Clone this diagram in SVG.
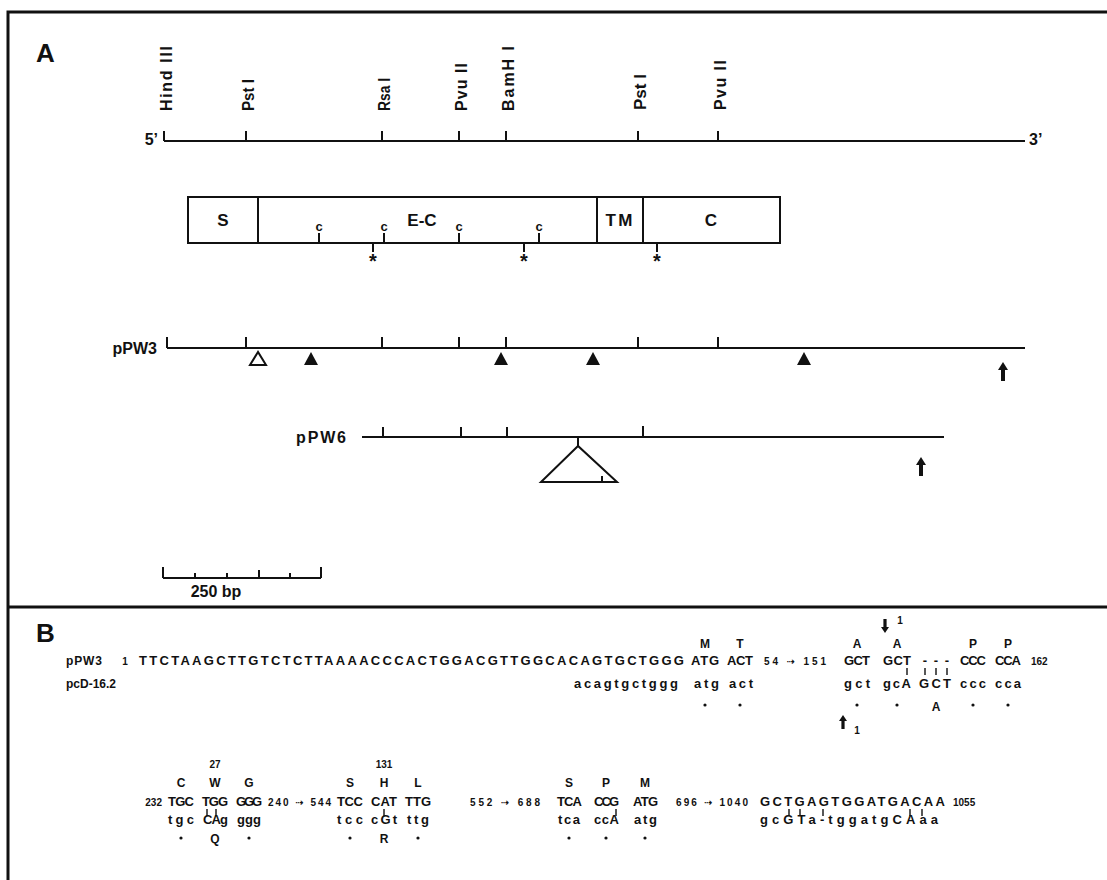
<svg xmlns="http://www.w3.org/2000/svg" width="1107" height="880" viewBox="0 0 1107 880">
<defs>
<style>
.ln{stroke:#111;stroke-width:2;fill:none}
.th{stroke:#111;stroke-width:1.4;fill:none}
.fr{stroke:#111;stroke-width:3;fill:none}
text{font-family:"Liberation Sans",Arial,"DejaVu Sans",sans-serif;font-weight:bold;fill:#111}
.lab{font-size:26px}
.map{font-size:16px}
.box{font-size:17px}
.sm{font-size:13px}
.sq{font-size:13px}
.lo{font-size:13px}
.aa{font-size:12px}
.num{font-size:10px}
.mid{text-anchor:middle}
.end{text-anchor:end}
</style>
<path id="arrUp" d="M0,0 L5,8 L2,8 L2,19 L-2,19 L-2,8 L-5,8 Z" fill="#111"/>
<path id="arrUpS" d="M0,0 L4,6 L1.6,6 L1.6,14 L-1.6,14 L-1.6,6 L-4,6 Z" fill="#111"/>
<path id="arrDnS" d="M0,14 L4,8 L1.6,8 L1.6,0 L-1.6,0 L-1.6,8 L-4,8 Z" fill="#111"/>
<polygon id="triF" points="0,0 -7,13 7,13" fill="#111"/>
</defs>
<rect width="1107" height="880" fill="#fff"/>

<g id="frame">
<path class="fr" d="M8,880 V12 H1107"/>
<line class="fr" x1="8" y1="607" x2="1107" y2="607"/>
<text class="lab" x="36" y="62">A</text>
<text class="lab" x="36" y="642">B</text>
</g>

<g id="restriction-map">
<line class="ln" x1="164" y1="141" x2="1025" y2="141"/>
<path class="ln" d="M164,131V141 M246,131V141 M382,131V141 M459,131V141 M506,131V141 M638,131V141 M718,131V141"/>
<text class="map end" x="158" y="145" font-size="15">5’</text>
<text class="map" x="1029" y="145" font-size="15">3’</text>
<text class="map" transform="translate(172,111) rotate(-90)" textLength="65" lengthAdjust="spacing">Hind III</text>
<text class="map" transform="translate(254,111) rotate(-90)" textLength="32" lengthAdjust="spacingAndGlyphs">Pst I</text>
<text class="map" transform="translate(390,111) rotate(-90)" textLength="33" lengthAdjust="spacingAndGlyphs">Rsa I</text>
<text class="map" transform="translate(467,111) rotate(-90)" textLength="48" lengthAdjust="spacing">Pvu II</text>
<text class="map" transform="translate(514,111) rotate(-90)" textLength="65" lengthAdjust="spacing">BamH I</text>
<text class="map" transform="translate(646,110) rotate(-90)" textLength="36" lengthAdjust="spacingAndGlyphs">Pst I</text>
<text class="map" transform="translate(726,110) rotate(-90)" textLength="50" lengthAdjust="spacing">Pvu II</text>
</g>

<g id="gene-box">
<rect class="ln" x="188" y="197" width="592" height="46"/>
<path class="ln" d="M258,197V243 M597,197V243 M643,197V243"/>
<text class="box mid" x="223" y="226">S</text>
<text class="box mid" x="422" y="226">E-C</text>
<text class="box mid" x="619" y="226" textLength="27" lengthAdjust="spacing">TM</text>
<text class="box mid" x="711" y="226">C</text>
<path class="ln" d="M319,233V243 M384,233V243 M459,233V243 M539,233V243"/>
<text class="sm mid" x="319" y="231">c</text>
<text class="sm mid" x="384" y="231">c</text>
<text class="sm mid" x="459" y="231">c</text>
<text class="sm mid" x="539" y="231">c</text>
<path class="ln" d="M373,243V252 M524,243V252 M657,243V252"/>
<text class="mid" x="373" y="268" font-size="20">*</text>
<text class="mid" x="524" y="268" font-size="20">*</text>
<text class="mid" x="657" y="268" font-size="20">*</text>
</g>

<g id="pPW3">
<line class="ln" x1="167" y1="348" x2="1025" y2="348"/>
<path class="ln" d="M167,337V348 M246,337V348 M382,337V348 M459,337V348 M506,337V348 M638,337V348 M718,337V348"/>
<text class="map end" x="157" y="354" font-size="15">pPW3</text>
<polygon class="ln" points="258,352 250,365 266,365" fill="#fff"/>
<use href="#triF" x="311" y="352"/>
<use href="#triF" x="501" y="352"/>
<use href="#triF" x="593" y="352"/>
<use href="#triF" x="804" y="352"/>
<use href="#arrUp" x="1003" y="362"/>
</g>

<g id="pPW6">
<line class="ln" x1="362" y1="437" x2="944" y2="437"/>
<path class="ln" d="M383,427V437 M461,427V437 M507,427V437 M643,426V437 M578,437V446 M602,476V482"/>
<polygon class="ln" points="578,446 541,482 617,482"/>
<text class="map end" x="346" y="443" font-size="16" textLength="50" lengthAdjust="spacing">pPW6</text>
<use href="#arrUp" x="921" y="457"/>
</g>

<g id="scale-bar">
<path class="ln" d="M163,578H321 M163,567V578 M195,573V578 M227,573V578 M259,570V578 M290,573V578 M321,567V578"/>
<text class="map mid" x="216" y="597" font-size="15">250 bp</text>
</g>

<g id="seq-row1">
<text class="aa" x="66" y="665" textLength="36" lengthAdjust="spacing">pPW3</text>
<text class="aa" x="66" y="688">pcD-16.2</text>
<text class="num mid" x="125" y="665">1</text>
<text class="sq" x="139" y="665" textLength="545" lengthAdjust="spacing">TTCTAAGCTTGTCTCTTAAAACCCACTGGACGTTGGCACAGTGCTGGG</text>
<text class="aa mid" x="705" y="648">M</text>
<text class="aa mid" x="740" y="648">T</text>
<text class="aa mid" x="857" y="648">A</text>
<text class="aa mid" x="897" y="648">A</text>
<text class="aa mid" x="973" y="648">P</text>
<text class="aa mid" x="1008" y="648">P</text>
<use href="#arrDnS" x="885" y="619"/>
<text class="num mid" x="900" y="624">1</text>
<text class="sq" x="691" y="665" textLength="28" lengthAdjust="spacing">ATG</text>
<text class="sq" x="727" y="665" textLength="26" lengthAdjust="spacing">ACT</text>
<text class="num" x="764" y="665" textLength="62" lengthAdjust="spacing">54 ⇢ 151</text>
<text class="sq" x="844" y="665" textLength="26" lengthAdjust="spacing">GCT</text>
<text class="sq" x="883" y="665" textLength="28" lengthAdjust="spacing">GCT</text>
<text class="sq mid" x="925 936 947" y="665">---</text>
<text class="sq" x="960" y="665" textLength="26" lengthAdjust="spacing">CCC</text>
<text class="sq" x="995" y="665" textLength="26" lengthAdjust="spacing">CCA</text>
<text class="num" x="1031" y="665">162</text>
<path class="th" d="M907,668V675 M925,668V675 M936,668V675 M947,668V675"/>
<text class="lo" x="574" y="688" textLength="104" lengthAdjust="spacing">acagtgctggg</text>
<text class="lo" x="694" y="688" textLength="25" lengthAdjust="spacing">atg</text>
<text class="lo" x="729" y="688" textLength="24" lengthAdjust="spacing">act</text>
<text class="lo" x="844" y="688" textLength="26" lengthAdjust="spacing">gct</text>
<text class="lo" x="883" y="688" textLength="28" lengthAdjust="spacing">gcA</text>
<text class="lo" x="919" y="688" textLength="32" lengthAdjust="spacing">GCT</text>
<text class="lo" x="960" y="688" textLength="26" lengthAdjust="spacing">ccc</text>
<text class="lo" x="995" y="688" textLength="26" lengthAdjust="spacing">cca</text>
<g fill="#111"><circle cx="705" cy="705" r="1.6"/><circle cx="740" cy="705" r="1.6"/><circle cx="857" cy="705" r="1.6"/><circle cx="897" cy="705" r="1.6"/><circle cx="973" cy="705" r="1.6"/><circle cx="1008" cy="705" r="1.6"/></g>
<text class="aa mid" x="936" y="711">A</text>
<use href="#arrUpS" x="843" y="715"/>
<text class="num mid" x="857" y="734">1</text>
</g>

<g id="seq-row2">
<text class="num mid" x="215" y="768">27</text>
<text class="num mid" x="384" y="768">131</text>
<text class="aa mid" x="181" y="787">C</text>
<text class="aa mid" x="215" y="787">W</text>
<text class="aa mid" x="249" y="787">G</text>
<text class="aa mid" x="350" y="787">S</text>
<text class="aa mid" x="384" y="787">H</text>
<text class="aa mid" x="418" y="787">L</text>
<text class="aa mid" x="569" y="787">S</text>
<text class="aa mid" x="606" y="787">P</text>
<text class="aa mid" x="645" y="787">M</text>
<text class="num end" x="162" y="806">232</text>
<text class="sq" x="168" y="806" textLength="26" lengthAdjust="spacing">TGC</text>
<text class="sq" x="202" y="806" textLength="26" lengthAdjust="spacing">TGG</text>
<text class="sq" x="236" y="806" textLength="26" lengthAdjust="spacing">GGG</text>
<text class="num" x="268" y="806" textLength="63" lengthAdjust="spacing">240 ⇢ 544</text>
<text class="sq" x="337" y="806" textLength="26" lengthAdjust="spacing">TCC</text>
<text class="sq" x="371" y="806" textLength="26" lengthAdjust="spacing">CAT</text>
<text class="sq" x="405" y="806" textLength="26" lengthAdjust="spacing">TTG</text>
<text class="num" x="470" y="806" textLength="70" lengthAdjust="spacing">552 ⇢ 688</text>
<text class="sq" x="557" y="806" textLength="25" lengthAdjust="spacing">TCA</text>
<text class="sq" x="594" y="806" textLength="25" lengthAdjust="spacing">CCG</text>
<text class="sq" x="633" y="806" textLength="25" lengthAdjust="spacing">ATG</text>
<text class="num" x="676" y="806" textLength="72" lengthAdjust="spacing">696 ⇢ 1040</text>
<text class="sq" x="760" y="806" textLength="185" lengthAdjust="spacing">GCTGAGTGGATGACAA</text>
<text class="num" x="953" y="806">1055</text>
<path class="th" d="M207,809V816 M216,809V816 M384,809V816 M616,809V816 M789,809V816 M800,809V816 M823,809V816 M910,809V816 M922,809V816"/>
<text class="lo" x="168" y="824" textLength="26" lengthAdjust="spacing">tgc</text>
<text class="lo" x="203" y="824" textLength="25" lengthAdjust="spacing">CAg</text>
<text class="lo" x="237" y="824" textLength="24" lengthAdjust="spacing">ggg</text>
<text class="lo" x="337" y="824" textLength="26" lengthAdjust="spacing">tcc</text>
<text class="lo" x="371" y="824" textLength="26" lengthAdjust="spacing">cGt</text>
<text class="lo" x="407" y="824" textLength="22" lengthAdjust="spacing">ttg</text>
<text class="lo" x="558" y="824" textLength="22" lengthAdjust="spacing">tca</text>
<text class="lo" x="594" y="824" textLength="25" lengthAdjust="spacing">ccA</text>
<text class="lo" x="634" y="824" textLength="23" lengthAdjust="spacing">atg</text>
<text class="lo" x="760" y="824" textLength="178" lengthAdjust="spacing">gcGTa-tggatgCAaa</text>
<g fill="#111"><circle cx="181" cy="838" r="1.6"/><circle cx="249" cy="838" r="1.6"/><circle cx="350" cy="838" r="1.6"/><circle cx="418" cy="838" r="1.6"/><circle cx="569" cy="838" r="1.6"/><circle cx="606" cy="838" r="1.6"/><circle cx="645" cy="838" r="1.6"/></g>
<text class="aa mid" x="215" y="843">Q</text>
<text class="aa mid" x="384" y="843">R</text>
</g>
</svg>
